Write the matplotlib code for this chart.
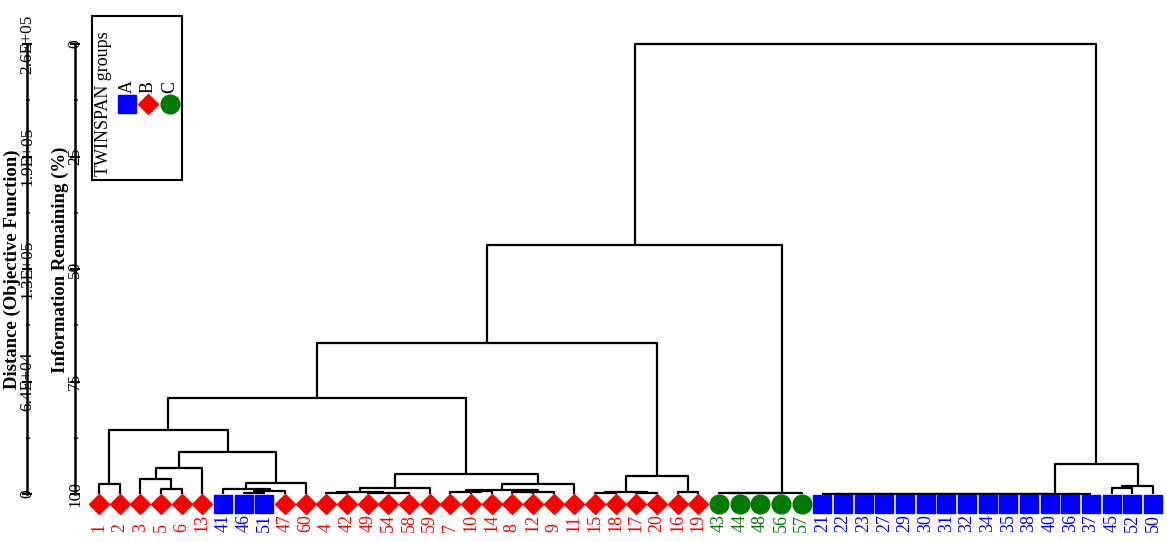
import matplotlib
matplotlib.use("Agg")
import matplotlib.pyplot as plt
from matplotlib.patches import Rectangle

plt.rcParams['font.family'] = ['Liberation Serif', 'DejaVu Serif']

# --- Données ---
leaf_labels = [1, 2, 3, 5, 6, 13, 41, 46, 51, 47, 60, 4, 42, 49, 54, 58, 59,
               7, 10, 14, 8, 12, 9, 11, 15, 18, 17, 20, 16, 19,
               43, 44, 48, 56, 57,
               21, 22, 23, 27, 29, 30, 31, 32, 34, 35, 38, 40, 36, 37, 45, 52, 50]
leaf_groups = list("BBBBBBAAABBBBBBBBBBBBBBBBBBBBBCCCCCAAAAAAAAAAAAAAAAA")

# fusions : (nom, gauche, droite, information restante %)
merges = [
    ("a1", 1, 2, 97.8), ("a2", 5, 6, 98.9), ("a3", 3, "a2", 96.7),
    ("a4", "a3", 13, 94.2), ("a5", 46, 51, 99.7), ("a6", "a5", 47, 99.4),
    ("a7", 41, "a6", 98.9), ("a8", "a7", 60, 97.6), ("a9", "a4", "a8", 90.7),
    ("a10", "a1", "a9", 85.8),
    ("b1", 4, 42, 99.8), ("b2", 54, 58, 99.8), ("b3", 49, "b2", 99.7),
    ("b4", "b1", "b3", 99.6), ("b5", "b4", 59, 98.7),
    ("b6", 10, 14, 99.4), ("b7", 7, "b6", 99.6), ("b8", 8, 12, 99.6),
    ("b9", "b8", 9, 99.5), ("b10", "b7", "b9", 99.1), ("b11", "b10", 11, 97.8),
    ("b12", "b5", "b11", 95.6),
    ("c1", "a10", "b12", 78.7),
    ("d1", 15, 18, 99.8), ("d2", 17, 20, 99.8), ("d3", "d1", "d2", 99.5),
    ("d4", 16, 19, 99.6), ("d5", "d3", "d4", 96.0),
    ("e1", "c1", "d5", 66.4),
    ("f1", 43, 44, 99.8), ("f2", "f1", 48, 99.8), ("f3", "f2", 56, 99.8),
    ("f4", "f3", 57, 99.8),
    ("g1", "e1", "f4", 44.7),
    ("h1", 21, 22, 99.9), ("h2", "h1", 23, 99.9), ("h3", "h2", 27, 99.9),
    ("h4", "h3", 29, 99.9), ("h5", "h4", 30, 99.9), ("h6", "h5", 31, 99.9),
    ("h7", "h6", 32, 99.9), ("h8", "h7", 34, 99.9), ("h9", "h8", 35, 99.9),
    ("h10", "h9", 38, 99.9), ("h11", "h10", 40, 99.9), ("h12", 36, 37, 99.9),
    ("h13", "h11", "h12", 99.9),
    ("i1", 45, 52, 98.6), ("i2", "i1", 50, 98.2),
    ("j1", "h13", "i2", 93.3),
    ("root", "g1", "j1", 0.0),
]

dist_max = 2.57e5
ir_ticks = [0, 25, 50, 75, 100]

group_style = {
    "A": dict(marker="s", ms=12.5, color="#0000ff"),
    "B": dict(marker="D", ms=10.5, color="#ff0000"),
    "C": dict(marker="o", ms=13.5, color="#007a00"),
}

# --- Figure : 1 unité x = 1 feuille ---
W, H = 1167, 542
sp = (1153 - 99) / 51.0
fig = plt.figure(figsize=(W / 100, H / 100), dpi=100)
ax = fig.add_axes([0, 0, 1, 1])
ax.set_xlim(-99 / sp, (W - 99) / sp)
ax.set_ylim((H - 44) / 4.5, -44 / 4.5)
ax.axis('off')

# positions
pos = {lab: (i, 100.0) for i, lab in enumerate(leaf_labels)}
for nom, g, d, h in merges:
    xg, hg = pos[g]
    xd, hd = pos[d]
    ax.plot([xg, xg, xd, xd], [hg, h, h, hd], color="black", lw=1.6,
            solid_capstyle="butt", zorder=2)
    pos[nom] = ((xg + xd) / 2, h)

# feuilles
for i, (lab, grp) in enumerate(zip(leaf_labels, leaf_groups)):
    st = group_style[grp]
    ax.plot(i, 102.3, linestyle="none", marker=st["marker"], ms=st["ms"],
            color=st["color"], mec=st["color"], zorder=3)
    ax.text(i, 108.4, str(lab), rotation=90, ha="center", va="bottom",
            color=st["color"], fontsize=13)

# --- Axes verticaux ---
x_ir = (75 - 99) / sp
x_dist = (27 - 99) / sp
tk = 4 / sp
for xa in (x_ir, x_dist):
    ax.plot([xa, xa], [0, 100], color="black", lw=1.8, zorder=2)
    for t in ir_ticks:
        ax.plot([xa - tk, xa + tk], [t, t], color="black", lw=1.5)
    for t in [12.5, 37.5, 62.5, 87.5]:
        ax.plot([xa, xa + tk * 0.6], [t, t], color="black", lw=1.2)

for t in ir_ticks:
    ax.text(x_ir, t, str(t), rotation=90, ha="center", va="center", fontsize=12.5)
    d = dist_max * (100 - t) / 100
    txt = "0" if d == 0 else f"{d:.1E}"
    ax.text(x_dist, t, txt, rotation=90, ha="center", va="center", fontsize=12.5)

ax.text((12 - 99) / sp, 50, "Distance (Objective Function)", rotation=90,
        ha="center", va="center", fontsize=13.5, fontweight="bold")
ax.text((60 - 99) / sp, 48, "Information Remaining (%)", rotation=90,
        ha="center", va="center", fontsize=13.5, fontweight="bold")

# --- Légende ---
ax.add_patch(Rectangle((92 / W, 1 - 180 / H), 90 / W, 164 / H, transform=ax.transAxes,
                       fill=False, edgecolor="black", lw=1.5))
ax.text(104 / W, 1 - 104 / H, "TWINSPAN groups", rotation=90, ha="center",
        va="center", fontsize=13, transform=ax.transAxes)
for k, (grp, xp) in enumerate(zip(["A", "B", "C"], [127, 148, 170])):
    st = group_style[grp]
    ax.text(xp / W, 1 - 87 / H, grp, rotation=90, ha="center", va="center",
            fontsize=13, transform=ax.transAxes)
    ax.plot(xp / W, 1 - 104 / H, marker=st["marker"], ms=st["ms"], color=st["color"],
            linestyle="none", transform=ax.transAxes)

fig.savefig("out.png", dpi=100)
